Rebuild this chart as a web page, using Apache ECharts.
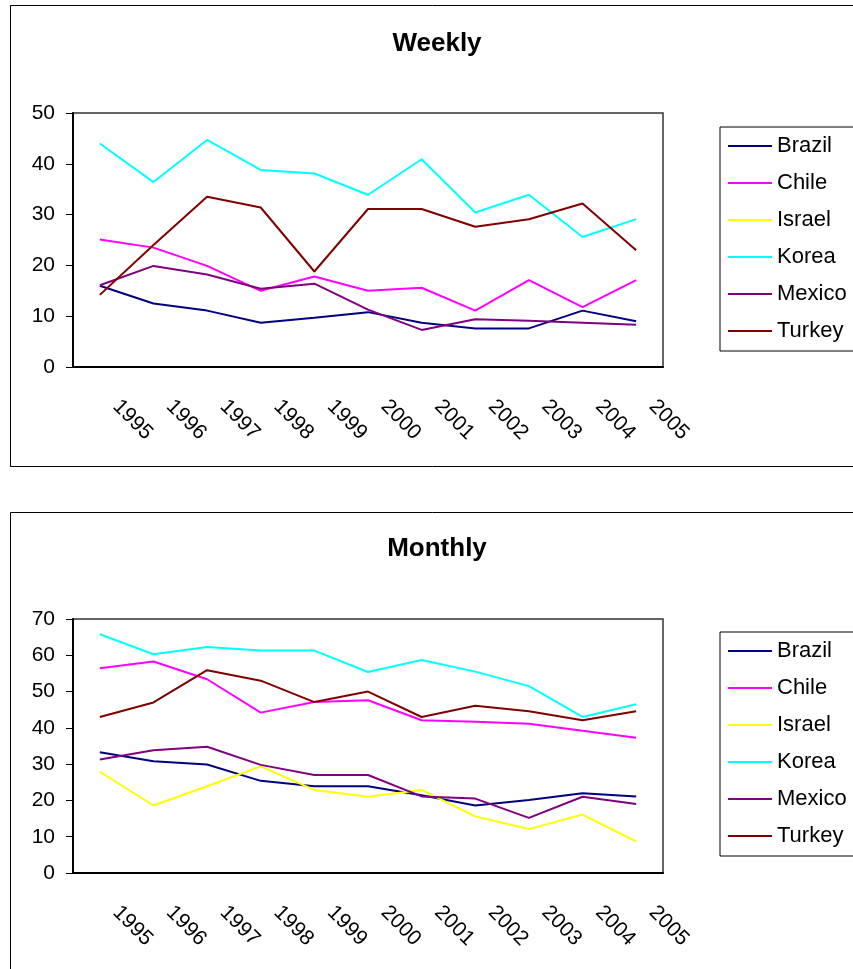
<!DOCTYPE html>
<html>
<head>
<meta charset="utf-8">
<script src="https://cdn.jsdelivr.net/npm/echarts@6/dist/echarts.min.js"></script>
<style>
  html, body { margin: 0; padding: 0; background: #fff; }
  #main { width: 853px; height: 969px; }
</style>
</head>
<body>
<div id="main"></div>
<script>
var years = ['1995', '1996', '1997', '1998', '1999', '2000', '2001', '2002', '2003', '2004', '2005'];
var countries = ['Brazil', 'Chile', 'Israel', 'Korea', 'Mexico', 'Turkey'];
var colors = ['#000080', '#FF00FF', '#FFFF00', '#00FFFF', '#800080', '#800000'];

// weekly values (Israel has no weekly data)
var weeklyBrazil = [16.0, 12.5, 11.1, 8.7, 9.7, 10.8, 8.7, 7.6, 7.6, 11.1, 9.0];
var weeklyChile  = [25.1, 23.5, 19.9, 15.0, 17.8, 15.0, 15.6, 11.1, 17.1, 11.8, 17.1];
var weeklyIsrael = [null, null, null, null, null, null, null, null, null, null, null];
var weeklyKorea  = [44.0, 36.4, 44.7, 38.8, 38.1, 33.9, 40.9, 30.4, 33.9, 25.6, 29.1];
var weeklyMexico = [16.1, 19.9, 18.2, 15.4, 16.4, 11.3, 7.3, 9.4, 9.1, 8.7, 8.3];
var weeklyTurkey = [14.2, 24.0, 33.5, 31.4, 18.8, 31.1, 31.1, 27.6, 29.1, 32.2, 23.0];

// monthly values
var monthlyBrazil = [33.3, 30.8, 29.9, 25.4, 23.9, 23.9, 21.4, 18.6, 20.1, 22.0, 21.1];
var monthlyChile  = [56.4, 58.3, 53.4, 44.2, 47.1, 47.6, 42.1, 41.7, 41.1, 39.2, 37.3];
var monthlyIsrael = [27.9, 18.6, 23.9, 29.4, 22.9, 21.0, 22.9, 15.6, 12.1, 16.1, 8.7];
var monthlyKorea  = [65.8, 60.3, 62.3, 61.3, 61.3, 55.4, 58.7, 55.5, 51.5, 43.0, 46.5];
var monthlyMexico = [31.3, 33.8, 34.8, 29.8, 27.0, 27.0, 21.1, 20.5, 15.2, 21.0, 19.0];
var monthlyTurkey = [43.0, 47.0, 55.9, 53.0, 47.1, 50.0, 43.0, 46.1, 44.6, 42.1, 44.6];

var weekly = [weeklyBrazil, weeklyChile, weeklyIsrael, weeklyKorea, weeklyMexico, weeklyTurkey];
var monthly = [monthlyBrazil, monthlyChile, monthlyIsrael, monthlyKorea, monthlyMexico, monthlyTurkey];

var font = 'Liberation Sans, Arial, sans-serif';

function xAxis(gridIndex) {
  return {
    type: 'category', gridIndex: gridIndex, data: years, boundaryGap: true,
    axisLine: { lineStyle: { color: '#000', width: 2 } },
    axisTick: { length: 6, lineStyle: { color: '#000' } },
    axisLabel: {
      interval: 0, rotate: -45, margin: 20, align: 'left', padding: [0, 0, 0, 23],
      color: '#000', fontSize: 21, fontFamily: font
    },
    splitLine: { show: false }
  };
}

function yAxis(gridIndex, max) {
  return {
    type: 'value', gridIndex: gridIndex, min: 0, max: max, interval: 10,
    axisLine: { show: true, lineStyle: { color: '#000', width: 2 } },
    axisTick: { show: true, length: 7, lineStyle: { color: '#000' } },
    axisLabel: { margin: 18, color: '#000', fontSize: 21, fontFamily: font },
    splitLine: { show: false }
  };
}

function legend(top) {
  return {
    orient: 'vertical', left: 720, top: top, data: countries,
    icon: 'rect', itemWidth: 44, itemHeight: 2, itemGap: 15,
    padding: [8, 40, 9, 8],
    borderColor: '#000', borderWidth: 1,
    textStyle: { color: '#000', fontSize: 22, fontFamily: font }
  };
}

var series = [];
countries.forEach(function (name, i) {
  series.push({
    name: name, type: 'line', xAxisIndex: 0, yAxisIndex: 0, data: weekly[i],
    symbol: 'none', lineStyle: { color: colors[i], width: 2 }, itemStyle: { color: colors[i] }
  });
  series.push({
    name: name, type: 'line', xAxisIndex: 1, yAxisIndex: 1, data: monthly[i],
    symbol: 'none', lineStyle: { color: colors[i], width: 2 }, itemStyle: { color: colors[i] }
  });
});

var myChart = echarts.init(document.getElementById('main'));
myChart.setOption({
  animation: false,
  backgroundColor: '#fff',
  grid: [
    { left: 73, top: 113, width: 590, height: 254, show: true, borderColor: '#333', borderWidth: 1.5 },
    { left: 73, top: 619, width: 590, height: 254, show: true, borderColor: '#333', borderWidth: 1.5 }
  ],
  xAxis: [xAxis(0), xAxis(1)],
  yAxis: [yAxis(0, 50), yAxis(1, 70)],
  legend: [legend(127), legend(632)],
  graphic: [
    { type: 'rect', shape: { x: 10.5, y: 5.5, width: 900, height: 461 }, style: { fill: 'none', stroke: '#000', lineWidth: 1 }, z: -1 },
    { type: 'rect', shape: { x: 10.5, y: 512.5, width: 900, height: 500 }, style: { fill: 'none', stroke: '#000', lineWidth: 1 }, z: -1 },
    { type: 'text', x: 437, y: 44, style: { text: 'Weekly', font: 'bold 26px ' + font, fill: '#000', textAlign: 'center', textVerticalAlign: 'middle' } },
    { type: 'text', x: 437, y: 549, style: { text: 'Monthly', font: 'bold 26px ' + font, fill: '#000', textAlign: 'center', textVerticalAlign: 'middle' } }
  ],
  series: series
});
</script>
</body>
</html>
